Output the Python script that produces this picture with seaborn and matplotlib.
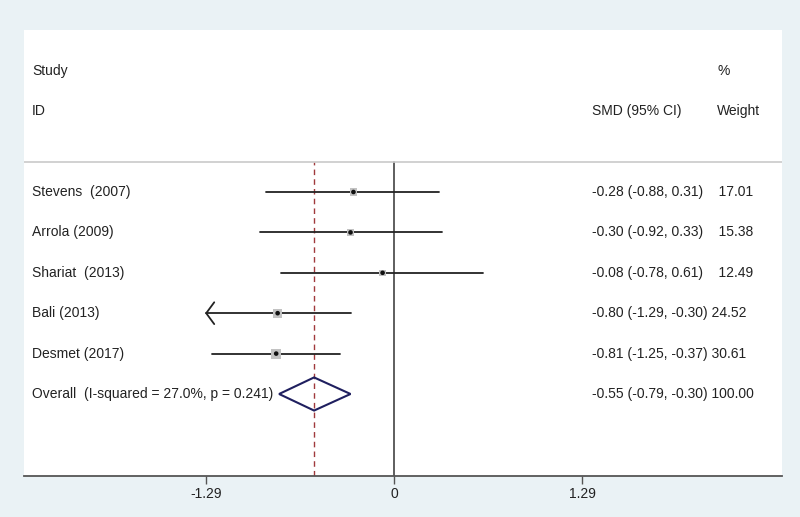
import numpy as np
import pandas as pd
import matplotlib
matplotlib.use("Agg")
import matplotlib.pyplot as plt
import matplotlib.transforms as mtransforms
import seaborn as sns

# ---- data ----
studies = ["Stevens  (2007)", "Arrola (2009)", "Shariat  (2013)", "Bali (2013)", "Desmet (2017)"]
smd = [-0.28, -0.30, -0.08, -0.80, -0.81]
ci_low = [-0.88, -0.92, -0.78, -1.29, -1.25]
ci_high = [0.31, 0.33, 0.61, -0.30, -0.37]
weights = [17.01, 15.38, 12.49, 24.52, 30.61]
overall_label = "Overall  (I-squared = 27.0%, p = 0.241)"
overall_smd = -0.55
overall_low = -0.79
overall_high = -0.30
overall_weight = 100.00
xticks = [-1.29, 0, 1.29]
xtick_labels = ["-1.29", "0", "1.29"]

sns.set_theme(style="white")
plt.rcParams["font.family"] = ["Liberation Sans", "DejaVu Sans"]

bg = "#eaf2f5"
fig = plt.figure(figsize=(8, 5.17), dpi=100, facecolor=bg)
W, H = 800, 517
left, right, top, bottom = 24, 782, 30, 476
ax = fig.add_axes([left / W, (H - bottom) / H, (right - left) / W, (bottom - top) / H])
ax.set_facecolor("white")

ax.set_xlim(-2.54, 2.66)
ax.set_ylim(7.03, -4.01)

df = pd.DataFrame({"study": studies, "smd": smd, "lo": ci_low, "hi": ci_high,
                   "weight": weights, "row": np.arange(len(studies))})

clip_lo = -1.29
sep_row = -0.74
vfrac = (7.03 - sep_row) / 11.04
# reference lines
ax.axvline(0, ymin=0, ymax=vfrac, color="#333333", lw=1.1, zorder=1)
ax.axvline(overall_smd, ymin=0, ymax=vfrac, color="#a0393c", lw=1.0,
           ls=(0, (4, 3)), zorder=1)
# header separator
ax.axhline(sep_row, color="#c9c9c9", lw=1.2, zorder=1)

# confidence intervals
for _, r in df.iterrows():
    lo = max(r["lo"], clip_lo)
    ax.plot([lo, r["hi"]], [r["row"], r["row"]], color="#222222", lw=1.3, zorder=2)
    if r["lo"] <= clip_lo:
        ax.plot([lo + 0.055, lo, lo + 0.055], [r["row"] - 0.27, r["row"], r["row"] + 0.27],
                color="#222222", lw=1.3, zorder=2, solid_joinstyle="miter")

# weight boxes
sns.scatterplot(data=df, x="smd", y="row", size="weight",
                sizes=(min(weights) * 1.7, max(weights) * 1.7),
                size_norm=(min(weights), max(weights)), marker="s",
                color="#c2c2c2", edgecolor="none", legend=False, ax=ax, zorder=3)
sns.scatterplot(data=df, x="smd", y="row", marker="o", s=11, color="#111111",
                edgecolor="none", legend=False, ax=ax, zorder=4)

# overall diamond
orow = len(studies)
ax.fill([overall_low, overall_smd, overall_high, overall_smd, overall_low],
        [orow, orow - 0.41, orow, orow + 0.41, orow], facecolor="none",
        edgecolor="#1f1f5f", lw=1.5, zorder=4)

# text columns
trans = mtransforms.blended_transform_factory(ax.transAxes, ax.transData)
fs = 10
txt_col = "#222222"
x_study = (32 - left) / (right - left)
x_smd = (592 - left) / (right - left)
x_w = (717 - left) / (right - left)


def txt(x, y, s):
    ax.text(x, y, s, transform=trans, ha="left", va="center", fontsize=fs, color=txt_col)


def es_weight(e, lo, hi, w):
    es = f"{e:.2f} ({lo:.2f}, {hi:.2f})"
    sep = "    " if hi >= 0 else " "
    return es + sep + f"{w:.2f}"


txt(x_study, -3, "Study")
txt(x_study, -2, "ID")
txt(x_smd, -2, "SMD (95% CI)")
txt(x_w, -3, "%")
txt(x_w, -2, "Weight")

for i in range(len(studies)):
    txt(x_study, i, studies[i])
    txt(x_smd, i, es_weight(smd[i], ci_low[i], ci_high[i], weights[i]))
txt(x_study, orow, overall_label)
txt(x_smd, orow, es_weight(overall_smd, overall_low, overall_high, overall_weight))

# axes styling
for s in ["top", "left", "right"]:
    ax.spines[s].set_visible(False)
ax.spines["bottom"].set_color("#555555")
ax.spines["bottom"].set_linewidth(1.3)
ax.set_yticks([])
ax.set_xticks(xticks)
ax.set_xticklabels(xtick_labels)
ax.tick_params(axis="x", direction="out", length=6, width=1.0, color="#555555",
               labelsize=10, labelcolor=txt_col, pad=2, bottom=True)
ax.set_xlabel("")
ax.set_ylabel("")

fig.savefig("out.png", dpi=100, facecolor=bg)
